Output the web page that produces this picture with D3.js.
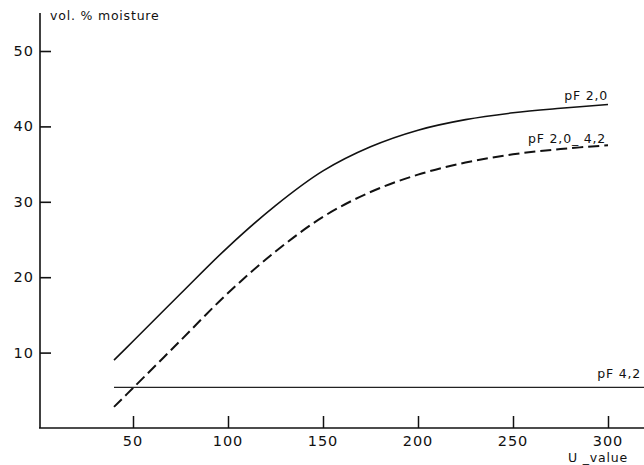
<!DOCTYPE html>
<html><head><meta charset="utf-8">
<script src="https://cdn.jsdelivr.net/npm/d3@7"></script>
<style>body{margin:0;background:#fff}svg text{font-family:"DejaVu Sans",sans-serif;fill:#111}</style>
</head><body><svg id="c" width="644" height="465"></svg>
<script>
const uValues = [40, 50, 75, 100, 125, 150, 175, 200, 225, 250, 275, 300];
const pF20 = [9.0, 11.5, 17.8, 24.0, 29.5, 34.1, 37.3, 39.5, 40.9, 41.8, 42.4, 42.9];
const pF20_42 = [2.8, 5.3, 11.6, 17.9, 23.4, 28.0, 31.3, 33.6, 35.2, 36.3, 37.0, 37.5];
const pF42 = [[40, 5.4], [330, 5.4]];
const xTicks = [50, 100, 150, 200, 250, 300];
const yTicks = [10, 20, 30, 40, 50];

const svg = d3.select("#c");
const x = d3.scaleLinear().domain([0, 300]).range([38, 608]);
const y = d3.scaleLinear().domain([0, 50]).range([428, 51]);

// axes
const xAxis = svg.append("g").attr("transform", "translate(0,428)")
  .call(d3.axisTop(x).tickValues(xTicks).tickSize(12).tickFormat(""));
xAxis.select(".domain").remove();
xAxis.selectAll("line").attr("stroke", "#111").attr("stroke-width", 1.5);
svg.append("line").attr("x1", 39).attr("x2", 644).attr("y1", 428).attr("y2", 428)
  .attr("stroke", "#111").attr("stroke-width", 1.6);

const yAxis = svg.append("g").attr("transform", "translate(40,0)")
  .call(d3.axisRight(y).tickValues(yTicks).tickSize(11).tickFormat(""));
yAxis.select(".domain").remove();
yAxis.selectAll("line").attr("stroke", "#111").attr("stroke-width", 1.6);
svg.append("line").attr("x1", 40).attr("x2", 40).attr("y1", 13).attr("y2", 428)
  .attr("stroke", "#111").attr("stroke-width", 1.6);

// tick labels
svg.selectAll(".xl").data(xTicks).enter().append("text")
  .attr("x", d => x(d)).attr("y", 446).attr("text-anchor", "middle")
  .attr("font-size", 14.5).attr("letter-spacing", 1).text(d => d);
svg.selectAll(".yl").data(yTicks).enter().append("text")
  .attr("x", 34).attr("y", d => y(d) + 5).attr("text-anchor", "end")
  .attr("font-size", 14.5).attr("letter-spacing", 1).text(d => d);

svg.append("text").attr("x", 50).attr("y", 20).attr("font-size", 12.5).attr("letter-spacing", 0.8).text("vol. % moisture");
svg.append("text").attr("x", 568).attr("y", 462).attr("font-size", 12.5).attr("letter-spacing", 0.8).text("U _value");

const line = d3.line().x(d => x(d[0])).y(d => y(d[1])).curve(d3.curveCatmullRom.alpha(0.5));
svg.append("path").datum(uValues.map((u, i) => [u, pF20[i]])).attr("d", line)
  .attr("fill", "none").attr("stroke", "#111").attr("stroke-width", 1.6);
svg.append("path").datum(uValues.map((u, i) => [u, pF20_42[i]])).attr("d", line)
  .attr("fill", "none").attr("stroke", "#111").attr("stroke-width", 2).attr("stroke-dasharray", "11,5");
svg.append("path").datum(pF42).attr("d", d3.line().x(d => x(d[0])).y(d => y(d[1])))
  .attr("fill", "none").attr("stroke", "#222").attr("stroke-width", 1.3);

svg.append("text").attr("x", 608).attr("y", 100).attr("text-anchor", "end").attr("font-size", 12.5).attr("letter-spacing", 0.8).text("pF 2,0");
svg.append("text").attr("x", 606).attr("y", 143).attr("text-anchor", "end").attr("font-size", 12.5).attr("letter-spacing", 0.8).text("pF 2,0_ 4,2");
svg.append("text").attr("x", 641).attr("y", 378).attr("text-anchor", "end").attr("font-size", 12.5).attr("letter-spacing", 0.8).text("pF 4,2");
</script></body></html>
